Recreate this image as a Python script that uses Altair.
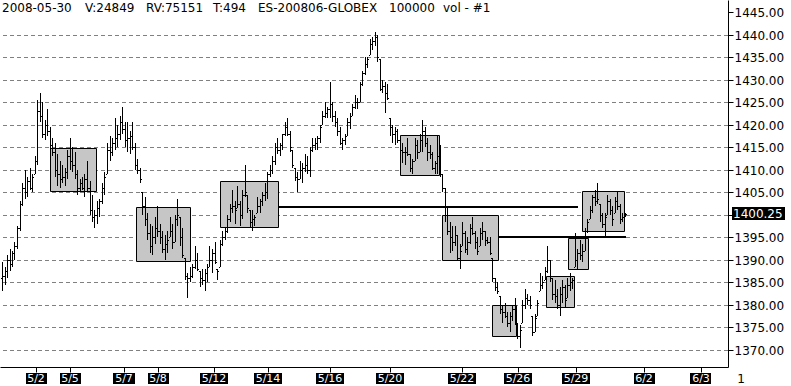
import altair as alt
import pandas as pd
import numpy as np

# ---------------- data ----------------
highs = [
    1389.5, 1388.5, 1391.0, 1392.5, 1392.0, 1394.0, 1397.5, 1403.0, 1407.0, 1410.0,
    1408.5, 1410.5, 1409.0, 1413.0, 1425.5, 1427.0, 1425.0, 1421.0, 1423.5, 1419.5,
    1417.0, 1416.0, 1413.5, 1412.0, 1411.0, 1410.5, 1414.5, 1417.0, 1415.0, 1414.0,
    1410.0, 1408.0, 1408.5, 1409.0, 1412.0, 1407.5, 1404.5, 1401.0, 1403.0, 1403.5,
    1407.0, 1409.5, 1416.0, 1417.5, 1417.0, 1421.5, 1420.0, 1422.0, 1424.0, 1420.5,
    1420.5, 1418.5, 1420.5, 1416.0, 1412.5, 1410.5, 1405.0, 1404.0, 1400.5, 1398.0,
    1397.5, 1399.5, 1402.0, 1398.0, 1396.5, 1395.5, 1396.5, 1399.5, 1398.0, 1400.0,
    1403.5, 1399.5, 1397.0, 1390.5, 1387.0, 1388.5, 1389.0, 1393.0, 1391.5, 1387.5,
    1388.0, 1388.0, 1389.0, 1393.0, 1392.5, 1394.0, 1388.0, 1394.5, 1396.5, 1397.0,
    1400.0, 1402.5, 1405.5, 1403.0, 1406.5, 1403.0, 1405.5, 1411.0, 1404.5, 1401.0,
    1401.0, 1400.0, 1404.0, 1403.5, 1405.0, 1407.0, 1409.5, 1411.0, 1413.0, 1416.0,
    1417.0, 1416.0, 1418.0, 1420.5, 1421.5, 1418.5, 1414.5, 1410.5, 1409.5, 1412.0,
    1411.5, 1413.5, 1413.0, 1415.0, 1417.0, 1417.0, 1417.5, 1420.0, 1423.0, 1425.0,
    1424.0, 1429.5, 1425.0, 1423.0, 1421.5, 1419.5, 1417.0, 1418.0, 1421.5, 1422.5,
    1424.5, 1426.5, 1426.0, 1429.5, 1432.0, 1435.0, 1435.0, 1439.0, 1439.5, 1440.5,
    1440.0, 1434.5, 1430.0, 1429.5, 1429.0, 1421.5, 1420.0, 1419.5, 1419.0, 1417.0,
    1416.0, 1415.0, 1417.0, 1413.5, 1412.5, 1417.0, 1416.5, 1418.0, 1421.0, 1419.5,
    1417.0, 1415.5, 1414.0, 1412.0, 1417.5, 1415.5, 1409.0, 1406.0, 1401.5, 1398.5,
    1397.5, 1397.5, 1395.5, 1393.5, 1398.5, 1396.5, 1395.0, 1398.0, 1399.5, 1396.5,
    1395.0, 1397.0, 1398.5, 1396.5, 1395.0, 1395.0, 1390.5, 1386.0, 1385.0, 1382.0,
    1380.0, 1380.5, 1378.5, 1378.5, 1380.0, 1381.5, 1376.0, 1375.5, 1381.0, 1383.5,
    1382.5, 1382.0, 1377.5, 1378.0, 1381.0, 1387.0, 1386.5, 1388.5, 1393.0, 1390.0,
    1386.0, 1385.5, 1383.5, 1384.0, 1385.5, 1384.5, 1386.0, 1387.0, 1386.0, 1396.0,
    1392.5, 1394.5, 1393.5, 1397.0, 1399.0, 1402.0, 1404.5, 1405.5, 1407.0, 1402.5,
    1400.5, 1400.5, 1404.5, 1403.5, 1402.0, 1404.0, 1405.0, 1402.5, 1400.5, 1400.5,
]
lows = [
    1383.0, 1384.5, 1386.0, 1387.5, 1388.5, 1390.0, 1392.5, 1396.5, 1402.0, 1403.5,
    1404.0, 1405.5, 1405.0, 1409.0, 1411.0, 1420.5, 1417.0, 1416.5, 1417.5, 1414.0,
    1413.0, 1408.5, 1406.5, 1406.0, 1407.0, 1406.5, 1408.0, 1410.0, 1409.5, 1408.0,
    1404.5, 1405.0, 1405.5, 1404.0, 1405.0, 1400.0, 1398.5, 1397.0, 1398.0, 1399.5,
    1402.5, 1404.5, 1409.0, 1412.0, 1413.0, 1414.5, 1415.0, 1416.5, 1418.0, 1415.0,
    1414.0, 1413.5, 1414.5, 1410.0, 1409.0, 1407.0, 1400.0, 1397.5, 1394.5, 1391.5,
    1391.0, 1393.5, 1395.0, 1393.5, 1391.5, 1390.0, 1391.5, 1395.0, 1392.5, 1394.0,
    1397.5, 1393.0, 1390.5, 1385.5, 1381.5, 1385.0, 1386.0, 1388.0, 1387.5, 1384.0,
    1384.5, 1383.0, 1385.0, 1388.5, 1387.0, 1389.0, 1385.5, 1388.5, 1393.0, 1394.5,
    1396.0, 1398.5, 1400.5, 1398.0, 1401.5, 1397.5, 1399.0, 1404.0, 1400.5, 1397.0,
    1396.5, 1397.5, 1400.5, 1400.5, 1402.0, 1403.0, 1403.5, 1408.5, 1409.0, 1411.0,
    1413.5, 1413.0, 1414.5, 1417.5, 1417.5, 1414.0, 1410.5, 1407.5, 1405.0, 1408.0,
    1407.0, 1409.5, 1409.0, 1408.5, 1414.0, 1414.5, 1414.5, 1416.0, 1420.0, 1421.5,
    1421.5, 1421.5, 1420.5, 1419.5, 1417.5, 1415.5, 1414.5, 1415.5, 1417.5, 1419.0,
    1422.0, 1423.5, 1423.5, 1425.0, 1428.5, 1431.0, 1432.5, 1435.5, 1436.5, 1437.5,
    1434.0, 1427.5, 1427.0, 1422.5, 1425.5, 1417.5, 1416.0, 1415.5, 1416.0, 1413.0,
    1411.5, 1411.0, 1413.0, 1409.5, 1409.0, 1412.0, 1412.5, 1414.0, 1414.0, 1415.0,
    1412.0, 1412.5, 1410.0, 1409.0, 1409.0, 1408.5, 1405.0, 1398.5, 1395.5, 1391.5,
    1392.0, 1393.0, 1390.0, 1388.0, 1393.0, 1391.5, 1391.0, 1393.5, 1395.5, 1392.5,
    1391.0, 1393.0, 1394.5, 1393.0, 1393.5, 1391.0, 1385.0, 1383.0, 1382.5, 1378.0,
    1376.0, 1377.0, 1375.0, 1374.0, 1376.5, 1375.5, 1372.5, 1370.5, 1376.0, 1379.0,
    1380.0, 1379.0, 1373.0, 1374.0, 1377.5, 1383.0, 1383.5, 1385.5, 1387.0, 1385.0,
    1381.0, 1380.5, 1379.0, 1377.5, 1380.5, 1379.5, 1381.5, 1383.0, 1383.5, 1388.5,
    1388.0, 1390.0, 1389.5, 1392.0, 1396.0, 1399.0, 1400.5, 1402.0, 1402.5, 1398.5,
    1397.0, 1395.0, 1400.0, 1400.0, 1397.5, 1400.5, 1401.0, 1398.0, 1398.5, 1399.5,
]
closes = [
    1386.5, 1387.5, 1390.0, 1389.0, 1391.5, 1393.0, 1397.0, 1402.5, 1406.0, 1405.0,
    1407.5, 1406.0, 1408.5, 1412.0, 1423.0, 1422.0, 1418.0, 1420.0, 1418.5, 1415.5,
    1414.0, 1410.0, 1409.0, 1408.0, 1408.5, 1409.5, 1413.0, 1412.0, 1411.0, 1409.0,
    1406.0, 1407.0, 1406.0, 1408.0, 1406.0, 1401.0, 1399.5, 1400.0, 1401.5, 1403.0,
    1406.0, 1408.5, 1414.5, 1414.0, 1416.0, 1417.0, 1418.0, 1420.5, 1419.0, 1416.5,
    1417.0, 1417.5, 1415.0, 1411.0, 1410.0, 1408.0, 1402.0, 1399.0, 1396.0, 1393.0,
    1395.0, 1397.0, 1396.5, 1395.0, 1392.5, 1393.5, 1394.5, 1396.5, 1394.0, 1399.0,
    1400.0, 1395.0, 1391.0, 1386.5, 1386.0, 1386.5, 1388.5, 1390.0, 1388.0, 1386.0,
    1385.5, 1387.0, 1388.5, 1390.0, 1391.5, 1389.5, 1387.5, 1393.5, 1395.0, 1396.5,
    1399.0, 1401.5, 1402.0, 1401.0, 1402.5, 1400.0, 1404.5, 1405.0, 1401.5, 1398.5,
    1399.0, 1399.5, 1402.0, 1403.0, 1404.5, 1405.0, 1409.0, 1410.0, 1412.0, 1415.0,
    1414.5, 1415.5, 1418.0, 1419.5, 1418.0, 1415.0, 1411.0, 1408.5, 1408.0, 1410.0,
    1410.5, 1411.0, 1410.0, 1414.5, 1415.5, 1416.0, 1417.0, 1419.5, 1422.0, 1422.5,
    1423.5, 1424.5, 1422.0, 1420.5, 1418.5, 1416.0, 1416.5, 1417.5, 1420.5, 1422.0,
    1424.0, 1425.0, 1425.0, 1429.0, 1431.5, 1433.5, 1434.5, 1438.0, 1438.5, 1439.5,
    1435.0, 1428.0, 1428.5, 1427.0, 1426.0, 1419.5, 1418.0, 1418.5, 1416.5, 1414.5,
    1414.0, 1414.0, 1413.5, 1410.5, 1412.0, 1415.5, 1414.0, 1416.5, 1418.5, 1416.0,
    1414.0, 1413.5, 1410.5, 1411.5, 1413.0, 1409.0, 1406.0, 1400.0, 1396.5, 1395.0,
    1394.0, 1395.5, 1390.5, 1392.0, 1396.0, 1392.5, 1394.0, 1397.0, 1396.0, 1394.0,
    1392.0, 1396.0, 1396.5, 1394.5, 1394.0, 1391.5, 1386.0, 1384.0, 1383.0, 1379.0,
    1378.5, 1377.5, 1376.0, 1377.5, 1379.0, 1376.5, 1373.0, 1374.5, 1380.0, 1381.5,
    1381.0, 1380.0, 1374.0, 1377.0, 1380.5, 1384.5, 1385.0, 1387.5, 1390.0, 1386.0,
    1382.5, 1382.0, 1380.0, 1382.5, 1384.0, 1381.0, 1384.5, 1385.0, 1385.5, 1390.0,
    1391.5, 1391.0, 1392.0, 1396.5, 1398.5, 1401.0, 1404.0, 1403.0, 1403.5, 1400.0,
    1398.0, 1399.5, 1403.0, 1401.0, 1399.0, 1403.0, 1402.0, 1399.0, 1399.5, 1400.25,
]
first_open = 1386.0

# value-area boxes (bar index range, price range)
box_start = [19.2, 53.6, 87.2, 159.2, 176.0, 196.0, 217.6, 226.5, 232.1]
box_end = [37.8, 75.2, 110.4, 174.8, 198.4, 205.7, 228.9, 234.5, 248.9]
box_low = [1405.25, 1389.75, 1397.25, 1408.75, 1390.0, 1373.0, 1379.5, 1388.0, 1396.5]
box_high = [1414.9, 1401.75, 1407.5, 1417.75, 1400.0, 1380.0, 1386.5, 1394.75, 1405.25]

# extended levels
level_start = [110.4, 198.4]
level_end = [230.4, 249.6]
level_price = [1401.75, 1395.0]

# day labels (bar index of first bar of each day)
date_labels = ["5/2", "5/5", "5/7", "5/8", "5/12", "5/14", "5/16", "5/20",
               "5/22", "5/26", "5/29", "6/2", "6/3"]
date_pos = [13.6, 27.2, 48.8, 62.5, 84.9, 106.5, 131.2, 155.2,
            184.1, 206.5, 229.6, 256.9, 279.5]

price_ticks = [1370, 1375, 1380, 1385, 1390, 1395, 1400, 1405,
               1410, 1415, 1420, 1425, 1430, 1435, 1440, 1445]
grid_levels = [1370, 1375, 1380, 1385, 1390, 1395, 1400, 1405,
               1410, 1415, 1420, 1425, 1430, 1435, 1440]
last_price = 1400.25

header_parts = ["2008-05-30", "V:24849", "RV:75151", "T:494",
                "ES-200806-GLOBEX", "100000", "vol - #1"]
page_label = "1"

# ---------------- layout ----------------
header_x = [2, 85, 146, 213, 258, 389, 443]
FONT = "DejaVu Sans"

n = len(highs)
opens = [first_open] + closes[:-1]
ohlc = pd.DataFrame({
    "i": np.arange(n),
    "high": highs,
    "low": lows,
    "close": closes,
})
ohlc["open"] = np.clip(np.array(opens), ohlc["low"], ohlc["high"])

boxes = pd.DataFrame({"x0": box_start, "x1": box_end, "lo": box_low, "hi": box_high})
levels = pd.DataFrame({"x0": level_start, "x1": level_end, "p": level_price})
dates = pd.DataFrame({"pos": date_pos, "label": date_labels})
dates["half"] = dates["label"].str.len() * 3.5 / 2.5
dates["x0"] = dates["pos"] - dates["half"]
dates["x1"] = dates["pos"] + dates["half"]
grid_df = pd.DataFrame({"p": grid_levels})
header = pd.DataFrame({"t": header_parts, "tx": header_x})
last_df = pd.DataFrame({"p": [last_price], "t": [f"{last_price:.2f}"]})

xs = alt.Scale(domain=[-0.8, 290.4], nice=False, zero=False, round=True)
ys = alt.Scale(domain=[1366.2, 1447.7], nice=False, zero=False, round=True)

grid = alt.Chart(grid_df).mark_rule(
    color="#808080", strokeDash=[4, 3], strokeWidth=1, yOffset=0.5
).encode(y=alt.Y("p:Q", scale=ys, axis=None))

box_layer = alt.Chart(boxes).mark_rect(
    fill="#c6c6c6", stroke="black", strokeWidth=1,
    xOffset=0.5, x2Offset=0.5, yOffset=0.5, y2Offset=0.5
).encode(
    x=alt.X("x0:Q", scale=xs, axis=None),
    x2="x1:Q",
    y=alt.Y("hi:Q", scale=ys, axis=None),
    y2="lo:Q",
)

level_layer = alt.Chart(levels).mark_rule(color="black", strokeWidth=2).encode(
    x=alt.X("x0:Q", scale=xs, axis=None),
    x2="x1:Q",
    y=alt.Y("p:Q", scale=ys, axis=None),
)

bar_layer = alt.Chart(ohlc).mark_rule(color="black", strokeWidth=1, xOffset=0.5).encode(
    x=alt.X("i:Q", scale=xs, axis=alt.Axis(
        values=date_pos, labels=False, ticks=True, tickSize=5,
        tickColor="black", domainColor="black", grid=False, title=None)),
    y=alt.Y("low:Q", scale=ys, axis=alt.Axis(
        orient="right", values=price_ticks, format=".2f",
        labelFont=FONT, labelFontSize=12, labelColor="black",
        tickColor="black", domainColor="black", tickSize=5,
        labelPadding=1, grid=False, title=None)),
    y2="high:Q",
)

open_layer = alt.Chart(ohlc).mark_rule(
    color="black", strokeWidth=1, xOffset=-1, x2Offset=0, yOffset=0.5
).encode(
    x=alt.X("i:Q", scale=xs, axis=None),
    x2="i:Q",
    y=alt.Y("open:Q", scale=ys, axis=None),
)

close_layer = alt.Chart(ohlc).mark_rule(
    color="black", strokeWidth=1, xOffset=1, x2Offset=2, yOffset=0.5
).encode(
    x=alt.X("i:Q", scale=xs, axis=None),
    x2="i:Q",
    y=alt.Y("close:Q", scale=ys, axis=None),
)

date_boxes = alt.Chart(dates).mark_rect(color="black").encode(
    x=alt.X("x0:Q", scale=xs, axis=None),
    x2="x1:Q",
    y=alt.value(373),
    y2=alt.value(384),
)

date_text = alt.Chart(dates).mark_text(
    color="white", font=FONT, fontSize=11, align="center", baseline="middle"
).encode(
    x=alt.X("pos:Q", scale=xs, axis=None),
    y=alt.value(378.5),
    text="label:N",
)

page_text = alt.Chart(pd.DataFrame({"t": [page_label]})).mark_text(
    color="black", font=FONT, fontSize=12, align="center", baseline="middle"
).encode(x=alt.value(741), y=alt.value(379), text="t:N")

header_text = alt.Chart(header).mark_text(
    color="black", font=FONT, fontSize=12, align="left", baseline="alphabetic"
).encode(
    x=alt.X("tx:Q", scale=None),
    y=alt.value(11.5),
    text="t:N",
)

last_box = alt.Chart(last_df).transform_calculate(
    top="datum.p + 1.45", bot="datum.p - 1.45"
).mark_rect(color="black").encode(
    x=alt.value(732),
    x2=alt.value(785),
    y=alt.Y("top:Q", scale=ys, axis=None),
    y2="bot:Q",
)

last_text = alt.Chart(last_df).mark_text(
    color="white", font=FONT, fontSize=12, align="left", baseline="middle"
).encode(
    x=alt.value(733),
    y=alt.Y("p:Q", scale=ys, axis=None),
    text="t:N",
)

chart = alt.layer(
    grid, box_layer, level_layer, bar_layer, open_layer, close_layer,
    date_boxes, date_text, page_text, header_text, last_box, last_text,
).resolve_axis(
    x="independent", y="independent"
).properties(
    width=728, height=367,
    autosize=alt.AutoSizeParams(type="none"),
    padding={"left": 0, "top": 0, "right": 63, "bottom": 19},
    background="white",
).configure_view(stroke=None)

chart.save("out.html", embed_options={"renderer": "svg", "actions": False})
